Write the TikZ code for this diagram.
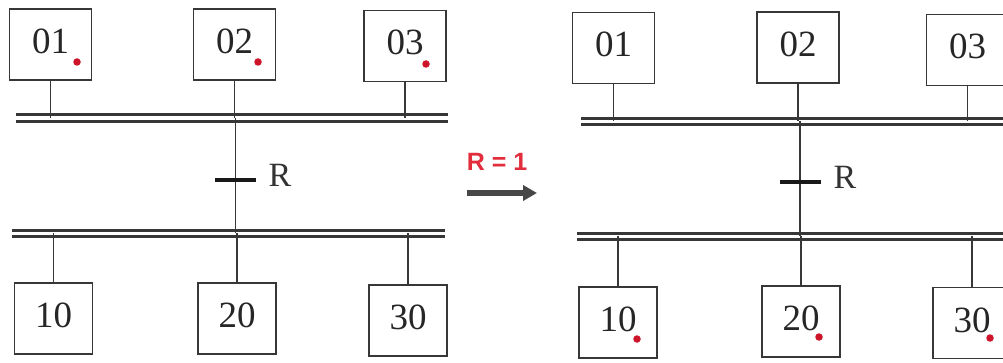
\documentclass[tikz,border=0pt]{standalone}
\usepackage{fontspec}
\setmainfont{Liberation Serif}
\newfontfamily\arialfont{Liberation Sans}
\usetikzlibrary{arrows.meta}
\definecolor{ink}{RGB}{55,55,55}
\definecolor{dotred}{RGB}{205,20,40}
\definecolor{lblred}{RGB}{225,45,60}
\begin{document}
\begin{tikzpicture}[x=1pt,y=-1pt,
  stepbox/.style={draw=ink, line width=1.6pt, minimum height=71pt, inner sep=0pt,
    text height=24pt, text depth=6pt, font=\fontsize{37}{41}\selectfont, text=black!85},
  topbox/.style={stepbox, minimum width=82pt},
  botbox/.style={stepbox, minimum width=78pt},
  bus/.style={draw=ink, line width=2.8pt, double distance=3.8pt},
  wire/.style={draw=ink, line width=1.6pt},
  bar/.style={fill=black!90, minimum width=41pt, minimum height=4.8pt, inner sep=0pt},
  rlabel/.style={font=\fontsize{34}{38}\selectfont, text=black!80},
  active/.style={circle, fill=dotred, minimum size=7.5pt, inner sep=0pt}
]
\clip (0,0) rectangle (1003,363);
\fill[white] (0,0) rectangle (1003,363);

% ---------- left diagram ----------
\coordinate (LT1) at (16,118);   \coordinate (LT2) at (448,118);
\coordinate (LB1) at (12,233.5); \coordinate (LB2) at (445,233.5);
\draw[bus] (LT1) -- (LT2);
\draw[bus] (LB1) -- (LB2);

\node[topbox] (a01) at (50.5,44.5) {01};
\node[topbox] (a02) at (234.5,44.5) {02};
\node[topbox] (a03) at (405,46) {03};
\node[botbox] (a10) at (53.5,318.5) {10};
\node[botbox] (a20) at (237,318.5) {20};
\node[botbox] (a30) at (408,320.5) {30};

\draw[wire] (a01.south) -- (a01.south |- LT1);
\draw[wire] (a02.south) -- (a02.south |- LT1);
\draw[wire] (a03.south) -- (a03.south |- LT1);
\draw[wire] (a10.north) -- (a10.north |- LB1);
\draw[wire] (a20.north) -- (a20.north |- LB1);
\draw[wire] (a30.north) -- (a30.north |- LB1);

\coordinate (LV1) at (235.5,118); \coordinate (LV2) at (235.5,233.5);
\draw[wire] (LV1) -- (LV2);
\node[bar] (ta) at (235.5,180) {};
\node[rlabel, anchor=west] (ra) at (265,175) {R};

\node[active] (da1) at (77,62) {};
\node[active] (da2) at (258,62) {};
\node[active] (da3) at (426,64) {};

% ---------- transition arrow ----------
\node[font=\arialfont\bfseries\fontsize{25}{29}\selectfont, text=lblred] (cond) at (497,161.5) {R = 1};
\coordinate (ar1) at (467,193); \coordinate (ar2) at (537,193);
\draw[-{Triangle[length=14pt,width=15pt]}, line width=5.5pt, draw=black!72] (ar1) -- (ar2);

% ---------- right diagram ----------
\coordinate (RT1) at (581,121.5); \coordinate (RT2) at (1010,121.5);
\coordinate (RB1) at (577,236.5); \coordinate (RB2) at (1010,236.5);
\draw[bus] (RT1) -- (RT2);
\draw[bus] (RB1) -- (RB2);

\node[topbox] (b01) at (613.5,48) {01};
\node[topbox] (b02) at (798,47.5) {02};
\node[topbox] (b03) at (967.5,50) {03};
\node[botbox] (b10) at (618,322.5) {10};
\node[botbox] (b20) at (801,321.5) {20};
\node[botbox] (b30) at (972,323) {30};

\draw[wire] (b01.south) -- (b01.south |- RT1);
\draw[wire] (b02.south) -- (b02.south |- RT1);
\draw[wire] (b03.south) -- (b03.south |- RT1);
\draw[wire] (b10.north) -- (b10.north |- RB1);
\draw[wire] (b20.north) -- (b20.north |- RB1);
\draw[wire] (b30.north) -- (b30.north |- RB1);

\coordinate (RV1) at (800,121.5); \coordinate (RV2) at (800,236.5);
\draw[wire] (RV1) -- (RV2);
\node[bar] (tb) at (800,182) {};
\node[rlabel, anchor=west] (rb) at (830,177) {R};

\node[active] (db1) at (637,339) {};
\node[active] (db2) at (819,337) {};
\node[active] (db3) at (990,338) {};
\end{tikzpicture}
\end{document}
